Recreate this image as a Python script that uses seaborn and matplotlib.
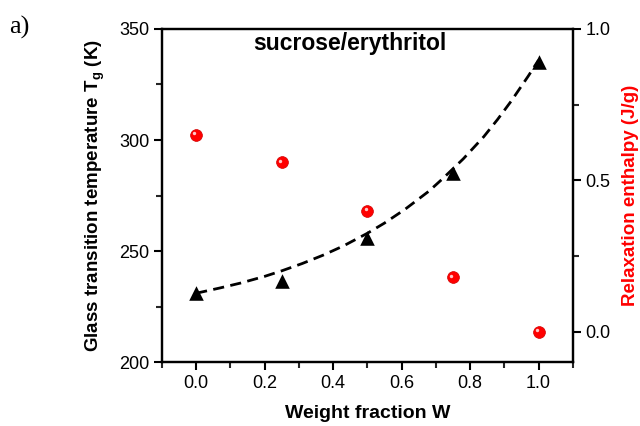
import seaborn as sns
import matplotlib.pyplot as plt
import matplotlib.transforms as mtransforms
import pandas as pd

# data
w = [0.0, 0.25, 0.5, 0.75, 1.0]
tg = [231.2, 236.6, 255.7, 285.3, 335.3]
enthalpy = [0.651, 0.560, 0.400, 0.180, 0.0]

# dashed fit curve
fit_w = [0.0, 0.07, 0.13, 0.2, 0.25, 0.31, 0.37, 0.43, 0.5, 0.55, 0.61,
         0.68, 0.72, 0.78, 0.84, 0.88, 0.92, 0.97, 1.0]
fit_tg = [231.0, 233.4, 235.6, 238.6, 241.1, 244.4, 248.1, 252.3, 258.0, 262.6,
          268.8, 277.0, 282.6, 291.5, 301.5, 309.2, 317.5, 328.8, 336.0]

x_ticks = [0.0, 0.2, 0.4, 0.6, 0.8, 1.0]
tg_ticks = [200, 250, 300, 350]
h_ticks = [0.0, 0.5, 1.0]

sns.set_style("ticks")
plt.rcParams['font.family'] = ['Liberation Sans', 'DejaVu Sans']
plt.rcParams['mathtext.fontset'] = 'custom'
plt.rcParams['mathtext.rm'] = 'Liberation Sans'
plt.rcParams['mathtext.bf'] = 'Liberation Sans:bold'
plt.rcParams['text.color'] = 'black'
plt.rcParams['axes.labelcolor'] = 'black'

df = pd.DataFrame({'w': w, 'tg': tg, 'h': enthalpy})
fit = pd.DataFrame({'w': fit_w, 'tg': fit_tg})

fig = plt.figure(figsize=(6.4, 4.26), dpi=100)
ax = fig.add_axes([0.253, 0.150, 0.642, 0.782])
ax2 = ax.twinx()

sns.lineplot(data=fit, x='w', y='tg', ax=ax, color='black', lw=2.0,
             linestyle=(0, (4.0, 2.3)), sort=False)
sns.scatterplot(data=df, x='w', y='tg', ax=ax, marker='^', s=110,
                color='black', edgecolor='black', linewidth=0, zorder=5)

sns.scatterplot(data=df, x='w', y='h', ax=ax2, marker='o', s=72,
                color='#ff0000', edgecolor='#d00000', linewidth=0.5, zorder=5)
# small highlight on the red balls
hl = mtransforms.offset_copy(ax2.transData, fig=fig, x=-1.2, y=1.2, units='points')
ax2.scatter(df['w'], df['h'], s=6, color='#ffc8c8', linewidth=0, transform=hl, zorder=6)

ax.set_xlim(-0.1, 1.1)
ax.set_ylim(200, 350)
ax2.set_ylim(-0.1, 1.0)
ax.set_xticks(x_ticks)
ax.set_yticks(tg_ticks)
ax2.set_yticks(h_ticks)
ax.set_xticks([0.1 * i - 0.1 for i in range(13)], minor=True)
ax.set_yticks([225, 275, 325], minor=True)
ax2.set_yticks([0.25, 0.75], minor=True)
ax.set_xticklabels([f'{v:.1f}' for v in x_ticks])
ax2.set_yticklabels([f'{v:.1f}' for v in h_ticks])

for a in (ax, ax2):
    for s in a.spines.values():
        s.set_linewidth(1.6)
        s.set_color('black')
    a.tick_params(which='major', direction='out', length=6, width=1.5,
                  labelsize=13, colors='black', pad=3)
    a.tick_params(which='minor', direction='out', length=4, width=1.5)
ax2.spines['top'].set_visible(True)
ax.spines['top'].set_visible(True)
ax.spines['right'].set_visible(True)
ax.tick_params(axis='x', which='both', top=False)

ax.set_xlabel('Weight fraction W', fontsize=14, fontweight='bold', labelpad=10)
ax.set_ylabel(r'Glass transition temperature T$_{\mathbf{g}}$ (K)', fontsize=13.5,
              fontweight='bold', labelpad=9)
ax2.set_ylabel('Relaxation enthalpy (J/g)', fontsize=13.5, fontweight='bold',
               color='red', labelpad=8)

ax.text(0.457, 0.955, 'sucrose/erythritol', transform=ax.transAxes,
        ha='center', va='center', fontsize=16.5, fontweight='bold', color='black')
fig.text(0.014, 0.935, 'a)', family=['Liberation Serif'], fontsize=19,
         ha='left', va='center', color='black')

fig.savefig('out.png', dpi=100)
